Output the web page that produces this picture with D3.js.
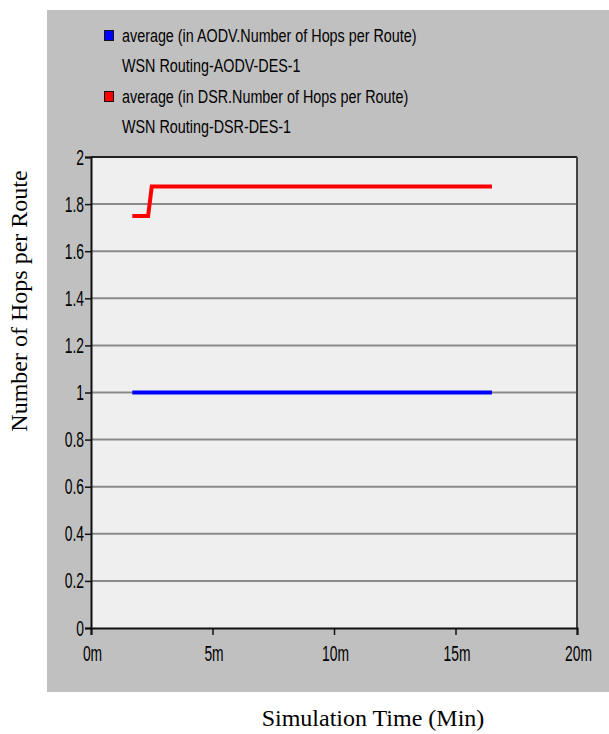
<!DOCTYPE html>
<html>
<head>
<meta charset="utf-8">
<script src="https://d3js.org/d3.v7.min.js"></script>
<style>
  body { margin: 0; background: #ffffff; }
  svg { display: block; }
</style>
</head>
<body>
<script>
/* data */
var xTicks = [0, 5, 10, 15, 20];
var yTicks = [0, 0.2, 0.4, 0.6, 0.8, 1, 1.2, 1.4, 1.6, 1.8, 2];
var seriesNames = ["average (in AODV.Number of Hops per Route)", "average (in DSR.Number of Hops per Route)"];
var seriesSubs = ["WSN Routing-AODV-DES-1", "WSN Routing-DSR-DES-1"];
var seriesColors = ["#0000ff", "#ff0000"];
var aodvTime = [1.7, 16.5];
var aodvHops = [1, 1];
var dsrTime = [1.7, 2.35, 2.5, 16.5];
var dsrHops = [1.75, 1.75, 1.875, 1.875];

var W = 609, H = 734;
var sans = "'Liberation Sans', Arial, sans-serif";
var serif = "'Liberation Serif', 'Times New Roman', serif";

var svg = d3.select("body").append("svg").attr("width", W).attr("height", H);

// gray panel
svg.append("rect").attr("x", 47).attr("y", 10).attr("width", W - 47).attr("height", 682)
  .attr("fill", "#c0c0c0");

var x = d3.scaleLinear().domain([0, 20]).range([91, 577]);
var y = d3.scaleLinear().domain([0, 2]).range([628, 157]);

// plot area
svg.append("rect").attr("x", x(0)).attr("y", y(2)).attr("width", x(20) - x(0)).attr("height", y(0) - y(2))
  .attr("fill", "#efefef");

// gridlines
svg.append("g").selectAll("line").data(yTicks.filter(function(d){ return d > 0 && d < 2; }))
  .enter().append("line")
  .attr("x1", x(0)).attr("x2", x(20))
  .attr("y1", function(d){ return y(d); }).attr("y2", function(d){ return y(d); })
  .attr("stroke", "#8a8a8a").attr("stroke-width", 2);

// frame top & right
svg.append("line").attr("x1", x(0)).attr("x2", x(20)).attr("y1", y(2)).attr("y2", y(2))
  .attr("stroke", "#222").attr("stroke-width", 2);
svg.append("line").attr("x1", x(20)).attr("x2", x(20)).attr("y1", y(2)).attr("y2", y(0))
  .attr("stroke", "#444").attr("stroke-width", 2);

// axes
var yAxis = d3.axisLeft(y).tickValues(yTicks).tickSize(6).tickPadding(1)
  .tickFormat(function(d){ return d3.format("")(+d.toFixed(1)); });
var gy = svg.append("g").attr("transform", "translate(" + x(0) + ",0)").call(yAxis);
var xAxis = d3.axisBottom(x).tickValues(xTicks).tickSize(7).tickPadding(4)
  .tickFormat(function(d){ return d + "m"; });
var gx = svg.append("g").attr("transform", "translate(0," + y(0) + ")").call(xAxis);

[gy, gx].forEach(function(g){
  g.select(".domain").attr("stroke", "#111").attr("stroke-width", 2);
  g.selectAll(".tick line").attr("stroke", "#111").attr("stroke-width", 1.5);
});
// condensed tick labels
gy.selectAll(".tick text").each(function(){
  var t = d3.select(this);
  t.attr("transform", "translate(" + t.attr("x") + ",0) scale(0.63,1)").attr("x", 0)
   .attr("fill", "#000").style("font-family", sans).style("font-size", "22px");
});
gx.selectAll(".tick text").each(function(){
  var t = d3.select(this);
  t.attr("transform", "translate(1,33) scale(0.63,1)").attr("y", 0)
   .attr("dy", null).attr("fill", "#000").style("font-family", sans).style("font-size", "22px");
});

// series lines
var line = d3.line().x(function(d){ return x(d[0]); }).y(function(d){ return y(d[1]); });
var series = [d3.zip(aodvTime, aodvHops), d3.zip(dsrTime, dsrHops)];
svg.append("g").selectAll("path").data(series).enter().append("path")
  .attr("d", line)
  .attr("fill", "none")
  .attr("stroke", function(d, i){ return seriesColors[i]; })
  .attr("stroke-width", 4)
  .attr("stroke-linejoin", "miter");

// legend
var leg = svg.append("g").selectAll("g").data(seriesNames).enter().append("g")
  .attr("transform", function(d, i){ return "translate(0," + (i * 61) + ")"; });
leg.append("rect").attr("x", 104.5).attr("y", 30.5).attr("width", 9).attr("height", 10)
  .attr("fill", function(d, i){ return seriesColors[i]; })
  .attr("stroke", "#111").attr("stroke-width", 1);
leg.append("text").attr("transform", "translate(122,42) scale(0.82,1)")
  .style("font-family", sans).style("font-size", "17.5px")
  .text(function(d){ return d; });
leg.append("text").attr("transform", "translate(122,72) scale(0.82,1)")
  .style("font-family", sans).style("font-size", "17.5px")
  .text(function(d, i){ return seriesSubs[i]; });

// axis titles
svg.append("text").attr("transform", "translate(27,301) rotate(-90)")
  .attr("text-anchor", "middle")
  .style("font-family", serif).style("font-size", "24px")
  .text("Number of Hops per Route");
svg.append("text").attr("x", 373).attr("y", 726)
  .attr("text-anchor", "middle")
  .style("font-family", serif).style("font-size", "24px")
  .text("Simulation Time (Min)");
</script>
</body>
</html>
